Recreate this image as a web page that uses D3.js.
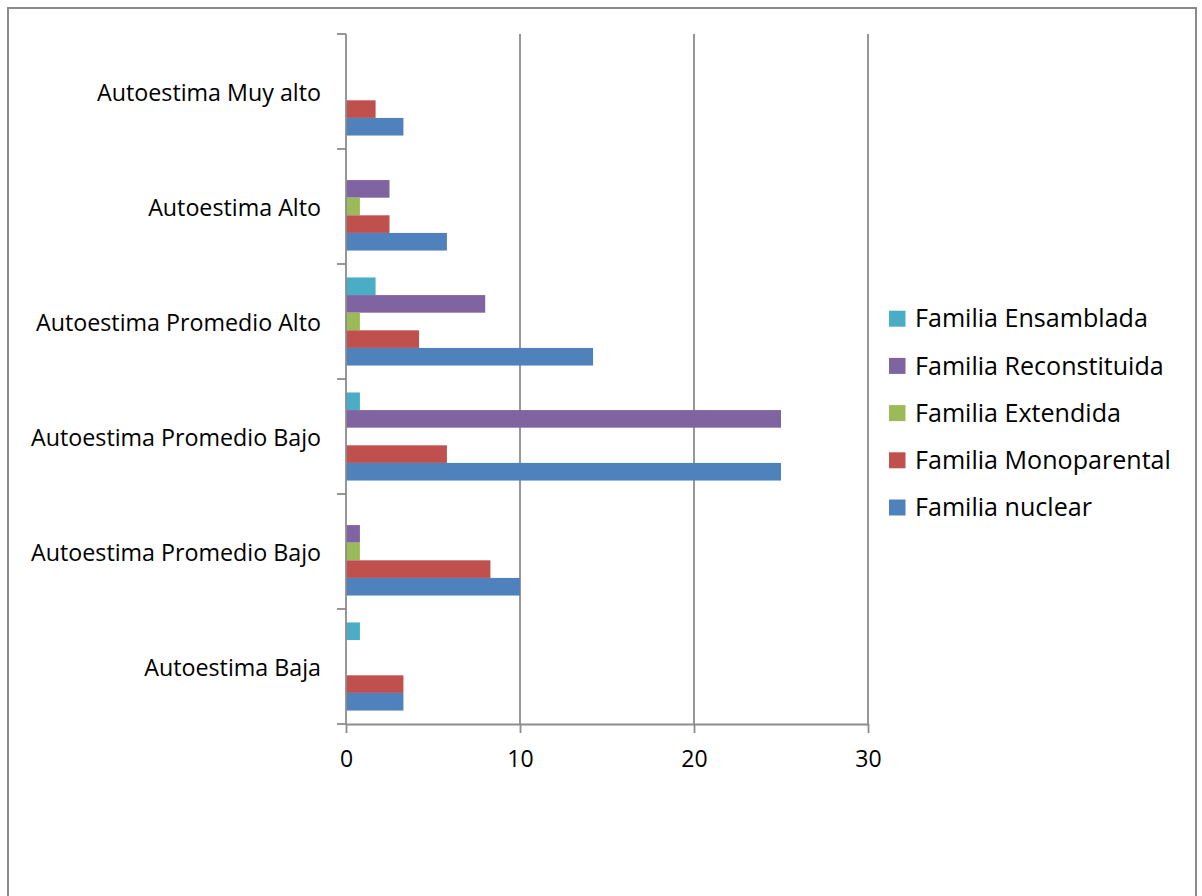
<!DOCTYPE html>
<html>
<head>
<meta charset="utf-8">
<script src="https://cdn.jsdelivr.net/npm/d3@7"></script>
<style>
  html, body { margin: 0; padding: 0; background: #fff; }
  svg { display: block; }
  text { font-family: "Open Sans", Lato, sans-serif; fill: #000; }
</style>
</head>
<body>
<svg id="chart" width="1202" height="896"></svg>
<script>
// Categories, listed from the bottom of the chart upward
const categories = [
  "Autoestima Baja",
  "Autoestima Promedio Bajo",
  "Autoestima Promedio Bajo",
  "Autoestima Promedio Alto",
  "Autoestima Alto",
  "Autoestima Muy alto"
];

// Series names, in legend order (top to bottom)
const seriesNames = [
  "Familia Ensamblada",
  "Familia Reconstituida",
  "Familia Extendida",
  "Familia Monoparental",
  "Familia nuclear"
];

// Values per category (same order as categories)
const familiaNuclear       = [3.3, 10, 25, 14.2, 5.8, 3.3];
const familiaMonoparental  = [3.3, 8.3, 5.8, 4.2, 2.5, 1.7];
const familiaExtendida     = [0, 0.8, 0, 0.8, 0.8, 0];
const familiaReconstituida = [0, 0.8, 25, 8.0, 2.5, 0];
const familiaEnsamblada    = [0.8, 0, 0.8, 1.7, 0, 0];

const xTicks = [0, 10, 20, 30];

const seriesValues = {
  "Familia Ensamblada": familiaEnsamblada,
  "Familia Reconstituida": familiaReconstituida,
  "Familia Extendida": familiaExtendida,
  "Familia Monoparental": familiaMonoparental,
  "Familia nuclear": familiaNuclear
};
const colors = {
  "Familia Ensamblada": "#4BACC6",
  "Familia Reconstituida": "#8064A2",
  "Familia Extendida": "#9BBB59",
  "Familia Monoparental": "#C0504D",
  "Familia nuclear": "#4F81BD"
};

const svg = d3.select("#chart");
const gridColor = "#8c8c8c";

// Pick a font size so that a sample string spans the wanted width
function fitSize(sample, width) {
  const t = svg.append("text").attr("font-size", 20).text(sample);
  const w = t.node().getComputedTextLength();
  t.remove();
  return 20 * width / w;
}
const catSize = fitSize("Autoestima Promedio Bajo", 290);
const legendSize = fitSize("Familia Ensamblada", 233);
const tickFont = 23;

// Outer chart frame
svg.append("rect")
  .attr("x", 8).attr("y", 8)
  .attr("width", 1188).attr("height", 900)
  .attr("fill", "#fff")
  .attr("stroke", "#8a8a8a").attr("stroke-width", 2);

const plot = { left: 346, right: 868, top: 34, bottom: 724 };

const x = d3.scaleLinear().domain([0, 30]).range([plot.left, plot.right]);

// Category index bands; index 0 sits at the bottom
const idx = d3.range(categories.length);
const y0 = d3.scaleBand()
  .domain(idx.slice().reverse())
  .range([plot.top, plot.bottom]);

const bandH = y0.bandwidth();
const y1 = d3.scaleBand()
  .domain(seriesNames)
  .range([bandH * 0.117, bandH * (1 - 0.117)]);

// Vertical gridlines
svg.append("g")
  .selectAll("line")
  .data(xTicks.filter(d => d > 0))
  .join("line")
  .attr("x1", d => x(d)).attr("x2", d => x(d))
  .attr("y1", plot.top).attr("y2", plot.bottom)
  .attr("stroke", gridColor).attr("stroke-width", 1.8);

// Bars
const groups = svg.append("g")
  .selectAll("g")
  .data(idx)
  .join("g")
  .attr("transform", i => `translate(0,${y0(i)})`);

groups.selectAll("rect")
  .data(i => seriesNames.map(s => ({ s, v: seriesValues[s][i] })).filter(d => d.v > 0))
  .join("rect")
  .attr("x", x(0))
  .attr("y", d => y1(d.s))
  .attr("width", d => x(d.v) - x(0))
  .attr("height", y1.bandwidth())
  .attr("fill", d => colors[d.s]);

// Category axis line and tick marks at band boundaries
const boundaries = idx.map(i => y0(i)).concat([plot.bottom]);
svg.append("line")
  .attr("x1", plot.left).attr("x2", plot.left)
  .attr("y1", plot.top).attr("y2", plot.bottom)
  .attr("stroke", gridColor).attr("stroke-width", 1.8);
svg.append("g")
  .selectAll("line")
  .data(boundaries)
  .join("line")
  .attr("x1", plot.left - 9).attr("x2", plot.left)
  .attr("y1", d => d).attr("y2", d => d)
  .attr("stroke", gridColor).attr("stroke-width", 1.8);

// Category labels
svg.append("g")
  .selectAll("text")
  .data(idx)
  .join("text")
  .attr("x", plot.left - 25)
  .attr("y", i => y0(i) + bandH / 2 + 9.5)
  .attr("text-anchor", "end")
  .attr("font-size", catSize)
  .text(i => categories[i]);

// Value axis (bottom)
const xAxis = d3.axisBottom(x).tickValues(xTicks).tickSize(9).tickSizeOuter(0).tickPadding(18);
const gx = svg.append("g")
  .attr("transform", `translate(0,${plot.bottom})`)
  .call(xAxis);
gx.select(".domain").attr("stroke", gridColor).attr("stroke-width", 1.8);
gx.selectAll(".tick line").attr("stroke", gridColor).attr("stroke-width", 1.8);
gx.selectAll(".tick text")
  .attr("font-family", "'Open Sans', Lato, sans-serif")
  .attr("font-size", tickFont)
  .attr("fill", "#000");

// Legend
const legend = svg.append("g")
  .selectAll("g")
  .data(seriesNames)
  .join("g")
  .attr("transform", (d, i) => `translate(889,${310.7 + i * 47.2})`);
legend.append("rect")
  .attr("width", 16.5).attr("height", 16)
  .attr("fill", d => colors[d]);
legend.append("text")
  .attr("x", 26).attr("y", 16.6)
  .attr("font-size", legendSize)
  .text(d => d);
</script>
</body>
</html>
